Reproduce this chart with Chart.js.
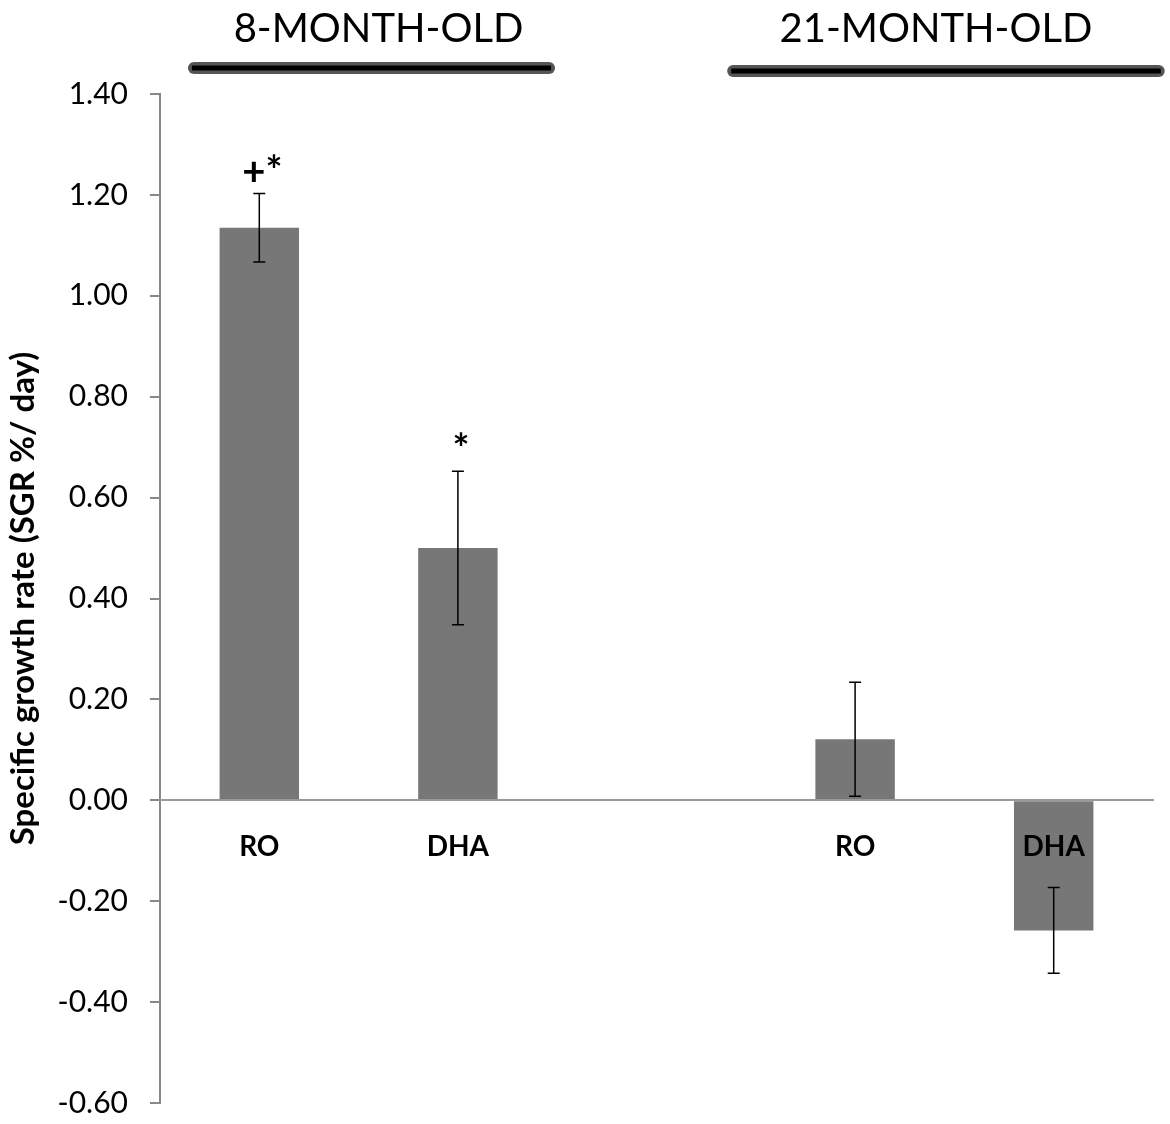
<!DOCTYPE html>
<html>
<head>
<meta charset="utf-8">
<script src="https://cdn.jsdelivr.net/npm/chart.js@4/dist/chart.umd.min.js"></script>
<style>
  html, body { margin: 0; padding: 0; background: #fff; }
  #wrap { width: 1170px; height: 1124px; }
</style>
</head>
<body>
<div id="wrap"><canvas id="grafico"></canvas></div>
<script>
// categorias (la tercera queda vacia para separar los grupos de edad)
const categorias = ['RO', 'DHA', '', 'RO', 'DHA'];
const sgr = [1.135, 0.50, null, 0.121, -0.258];
const errores = [0.068, 0.152, null, 0.113, 0.085];
const marcas = ['+*', '*', '', '', ''];
const grupos = ['8-MONTH-OLD', '21-MONTH-OLD'];
const ticksY = [1.4, 1.2, 1.0, 0.8, 0.6, 0.4, 0.2, 0, -0.2, -0.4, -0.6];

const fuente = 'Lato, "Open Sans", sans-serif';

// barras de error, asteriscos y rotulos de grupo
const extras = {
    id: 'extras',
    afterDatasetsDraw(chart) {
        const ctx = chart.ctx;
        const x = chart.scales.x;
        const y = chart.scales.y;
        ctx.save();
        ctx.strokeStyle = '#000';
        ctx.lineWidth = 1.5;
        sgr.forEach((v, i) => {
            if (v === null) return;
            const cx = x.getPixelForValue(i);
            const yTop = y.getPixelForValue(v + errores[i]);
            const yBot = y.getPixelForValue(v - errores[i]);
            ctx.beginPath();
            ctx.moveTo(cx, yTop); ctx.lineTo(cx, yBot);
            ctx.moveTo(cx - 6, yTop); ctx.lineTo(cx + 6, yTop);
            ctx.moveTo(cx - 6, yBot); ctx.lineTo(cx + 6, yBot);
            ctx.stroke();
            if (marcas[i]) {
                ctx.fillStyle = '#000';
                ctx.font = 'bold 40px ' + fuente;
                ctx.textAlign = 'center';
                ctx.textBaseline = 'alphabetic';
                ctx.fillText(marcas[i], cx + 3, yTop - 8);
            }
        });
        ctx.restore();
    },
    afterDraw(chart) {
        const ctx = chart.ctx;
        const x = chart.scales.x;
        const ancho = x.getPixelForValue(1) - x.getPixelForValue(0);
        const barras = [
            [x.getPixelForValue(0) - 0.329 * ancho, x.getPixelForValue(1) + 0.459 * ancho, 68, 7],
            [x.getPixelForValue(3) - 0.614 * ancho, x.getPixelForValue(4) + 0.529 * ancho, 71, -10]
        ];
        ctx.save();
        barras.forEach((b, i) => {
            ctx.lineCap = 'round';
            ctx.strokeStyle = '#555';
            ctx.lineWidth = 12;
            ctx.beginPath(); ctx.moveTo(b[0], b[2]); ctx.lineTo(b[1], b[2]); ctx.stroke();
            ctx.lineCap = 'butt';
            ctx.strokeStyle = '#000';
            ctx.lineWidth = 5;
            ctx.beginPath(); ctx.moveTo(b[0] - 2, b[2]); ctx.lineTo(b[1] + 2, b[2]); ctx.stroke();
            ctx.fillStyle = '#000';
            ctx.font = '40px ' + fuente;
            ctx.textAlign = 'center';
            ctx.textBaseline = 'alphabetic';
            ctx.fillText(grupos[i], (b[0] + b[1]) / 2 + b[3], 42);
        });
        ctx.restore();
    }
};

new Chart(document.getElementById('grafico'), {
    type: 'bar',
    data: {
        labels: categorias,
        datasets: [{
            data: sgr,
            backgroundColor: '#777777',
            borderWidth: 0,
            categoryPercentage: 1.0,
            barPercentage: 0.4
        }]
    },
    options: {
        responsive: true,
        maintainAspectRatio: false,
        animation: false,
        layout: { padding: { top: 94, bottom: 21, right: 17, left: 0 } },
        plugins: { legend: { display: false }, tooltip: { enabled: false } },
        scales: {
            x: {
                position: { y: 0 },
                afterFit(scale) { scale.paddingTop = 0; scale.paddingBottom = 0; },
                grid: { display: false },
                border: { display: true, color: '#999', width: 2, z: 1 },
                ticks: {
                    z: 1,
                    autoSkip: false,
                    color: '#000',
                    font: { family: fuente, size: 28, weight: 'bold' },
                    padding: 22,
                    maxRotation: 0
                }
            },
            y: {
                min: -0.6,
                max: 1.4,
                afterFit(scale) { scale.width = 160; scale.paddingTop = 0; scale.paddingBottom = 0; },
                afterBuildTicks(scale) { scale.ticks = ticksY.map(v => ({ value: v })); },
                grid: { drawOnChartArea: false, drawTicks: true, tickLength: 10, color: '#888', lineWidth: 2 },
                border: { display: true, color: '#888', width: 2 },
                ticks: {
                    color: '#000',
                    font: { family: fuente, size: 30 },
                    padding: 22,
                    callback: v => v.toFixed(2)
                },
                title: {
                    display: true,
                    text: 'Specific growth rate (SGR %/ day)',
                    color: '#000',
                    font: { family: fuente, size: 33, weight: 'bold' },
                    padding: { top: 4, bottom: 0 }
                }
            }
        }
    },
    plugins: [extras]
});
</script>
</body>
</html>
